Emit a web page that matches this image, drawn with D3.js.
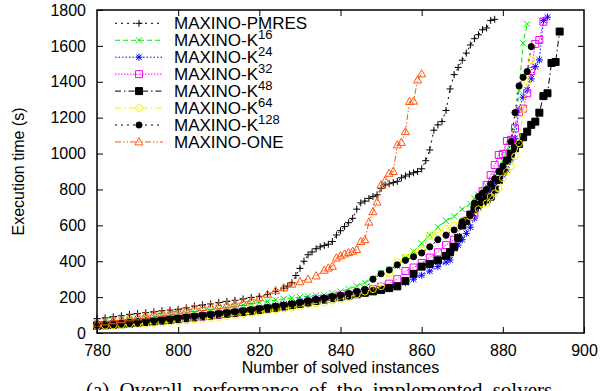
<!DOCTYPE html>
<html>
<head>
<meta charset="utf-8">
<script src="https://cdn.jsdelivr.net/npm/d3@7"></script>
<style>
  body { margin: 0; background: #fff; }
  svg { display: block; }
</style>
</head>
<body>
<div id="chart"></div>
<script>
// axis ticks
const xTicks = [780, 800, 820, 840, 860, 880, 900];
const yTicks = [0, 200, 400, 600, 800, 1000, 1200, 1400, 1600, 1800];

// legend labels: [base text, superscript]
const labels = [
  ['MAXINO-PMRES', ''],
  ['MAXINO-K', '16'],
  ['MAXINO-K', '24'],
  ['MAXINO-K', '32'],
  ['MAXINO-K', '48'],
  ['MAXINO-K', '64'],
  ['MAXINO-K', '128'],
  ['MAXINO-ONE', '']
];

// [solved instances, execution time (s)]
const pmres = [[780,80],[782,84],[784,90],[786,96],[788,104],[790,108],[792,113],[794,118],[796,124],[798,128],[800,132],[802,140],[804,150],[806,156],[808,162],[810,170],[812,176],[814,182],[816,190],[818,198],[820,204],[822,214],[824,232],[826,250],[827,262],[828,280],[829,320],[830,360],[831,400],[832,436],[833,452],[834,470],[835,480],[836,488],[837,495],[838,510],[839,546],[840,570],[841,593],[842,615],[843,639],[844,690],[845,725],[846,735],[847,750],[848,760],[849,770],[850,805],[851,825],[852,832],[853,838],[854,845],[855,865],[856,875],[857,885],[858,893],[859,900],[860,915],[861,960],[862,1020],[863,1130],[864,1160],[865,1178],[866,1240],[867,1360],[868,1440],[869,1480],[870,1520],[871,1560],[872,1605],[873,1640],[874,1662],[875,1690],[876,1700],[877,1742],[878,1748]];

const k16 = [[780,60],[782,64],[784,68],[786,72],[788,76],[790,80],[792,84],[794,90],[796,96],[798,100],[800,106],[802,111],[804,116],[806,122],[808,128],[810,135],[812,142],[814,148],[816,156],[818,164],[820,170],[822,176],[824,184],[826,190],[828,196],[830,200],[832,204],[834,208],[836,212],[838,222],[840,232],[842,245],[844,262],[846,280],[848,305],[850,335],[852,355],[854,372],[856,420],[858,455],[860,500],[862,546],[864,590],[866,625],[868,650],[870,690],[872,720],[873,751],[874,770],[875,795],[876,820],[877,850],[878,875],[879,900],[880,960],[881,1020],[882,1076],[883,1150],[884,1350],[885,1615],[886,1722]];

const k24 = [[780,48],[782,50],[784,53],[786,56],[788,60],[790,64],[792,68],[794,72],[796,76],[798,80],[800,84],[802,88],[804,92],[806,96],[808,100],[810,105],[812,110],[814,116],[816,122],[818,128],[820,136],[822,144],[824,152],[826,160],[828,168],[830,178],[832,188],[834,194],[836,198],[838,204],[840,210],[842,216],[844,222],[846,228],[848,236],[850,244],[852,252],[854,262],[856,280],[858,300],[860,322],[862,345],[864,370],[866,395],[867,407],[868,470],[869,490],[870,520],[871,555],[872,590],[873,640],[874,700],[875,740],[876,760],[877,790],[878,820],[879,850],[880,880],[881,910],[882,968],[883,1085],[884,1243],[885,1314],[886,1355],[887,1416],[888,1484],[889,1522],[890,1741],[891,1760]];

const k32 = [[780,42],[782,44],[784,47],[786,50],[788,53],[790,57],[792,61],[794,65],[796,69],[798,73],[800,77],[802,82],[804,87],[806,92],[808,97],[810,102],[812,107],[814,112],[816,117],[818,122],[820,128],[822,134],[824,140],[826,148],[828,156],[830,164],[832,172],[834,180],[836,190],[838,198],[840,206],[842,214],[844,222],[846,232],[848,244],[850,258],[852,275],[854,300],[856,345],[858,365],[860,390],[862,420],[864,450],[866,490],[868,520],[870,600],[872,650],[873,667],[874,723],[875,790],[876,825],[877,880],[878,936],[879,992],[880,998],[881,1070],[882,1076],[883,1141],[884,1230],[885,1250],[886,1336],[887,1460],[888,1611],[889,1633],[890,1735]];

const k48 = [[780,40],[782,43],[784,46],[786,49],[788,53],[790,57],[792,61],[794,65],[796,70],[798,74],[800,78],[802,83],[804,88],[806,93],[808,98],[810,103],[812,108],[814,113],[816,118],[818,124],[820,130],[822,136],[824,142],[826,148],[828,155],[830,162],[832,170],[834,178],[836,186],[838,194],[840,200],[842,208],[844,216],[846,224],[848,232],[850,240],[852,250],[854,260],[856,290],[858,330],[860,370],[862,385],[864,405],[866,430],[867,450],[868,480],[869,530],[870,600],[871,625],[872,660],[873,690],[874,715],[875,732],[876,745],[877,760],[878,800],[879,853],[880,900],[881,960],[882,1000],[883,1030],[884,1054],[885,1091],[886,1122],[887,1160],[888,1178],[889,1228],[890,1320],[891,1336],[892,1505],[893,1510],[894,1680]];

const k64 = [[780,38],[782,40],[784,42],[786,45],[788,48],[790,50],[792,52],[794,55],[796,58],[798,62],[800,66],[802,70],[804,74],[806,78],[808,82],[810,88],[812,94],[814,100],[816,106],[818,112],[820,118],[822,124],[824,130],[826,136],[828,142],[830,150],[832,158],[834,164],[836,170],[838,180],[840,190],[842,200],[844,215],[846,230],[848,244],[850,260],[852,330],[854,395],[856,420],[858,440],[860,463],[862,540],[864,560],[866,580],[868,600],[870,625],[872,648],[874,690],[876,723],[877,760],[878,779],[879,807],[880,862],[881,900],[882,927],[883,983],[884,1057],[885,1247],[886,1400],[887,1522]];

const k128 = [[780,45],[782,48],[784,51],[786,54],[788,58],[790,62],[792,66],[794,70],[796,74],[798,78],[800,82],[802,87],[804,92],[806,97],[808,102],[810,107],[812,112],[814,118],[816,124],[818,130],[820,136],[822,142],[824,148],[826,155],[828,162],[830,170],[832,178],[834,186],[836,194],[838,202],[840,210],[842,220],[844,232],[846,244],[848,300],[850,330],[852,351],[854,380],[856,405],[858,425],[860,446],[862,480],[864,520],[866,545],[868,574],[870,620],[872,658],[873,723],[874,760],[875,780],[876,800],[877,830],[878,860],[879,900],[880,930],[881,964],[882,1066],[883,1228],[884,1377],[885,1425],[886,1457],[887,1596]];

const one = [[780,55],[782,62],[784,68],[786,74],[788,84],[790,90],[792,96],[794,104],[796,110],[798,116],[800,122],[802,128],[804,136],[806,142],[808,147],[810,152],[812,156],[814,162],[816,170],[818,180],[820,196],[822,216],[824,236],[826,252],[828,272],[830,286],[832,300],[834,318],[836,350],[837,362],[838,372],[839,418],[840,430],[841,440],[842,448],[843,456],[844,465],[845,510],[846,520],[847,618],[848,676],[849,730],[850,825],[851,850],[852,890],[853,900],[854,1048],[855,1062],[856,1122],[857,1290],[858,1292],[859,1410],[860,1444]];

const seriesData = [pmres, k16, k24, k32, k48, k64, k128, one];

// styles (gnuplot-like)
const colors = ['#000000', '#00ee00', '#0000ff', '#ff00ff', '#000000', '#f2f200', '#000000', '#ff5511'];
const dashes = ['2,4', '5,3', '1.5,2', '1.5,1.5', '6,3,1.5,3', '6,3,1.5,3', '2,4', '6,2,1.5,2,1.5,2'];
const shapes = ['plus', 'cross', 'star', 'square', 'squareFilled', 'circle', 'circleFilled', 'triangle'];

const width = 601, height = 391;
const plot = { left: 97, right: 584, top: 10, bottom: 333 };
const font = '"Liberation Sans", Arial, Helvetica, sans-serif';

const svg = d3.select('#chart').append('svg')
  .attr('width', width)
  .attr('height', height)
  .style('font-family', font);

const x = d3.scaleLinear().domain([780, 900]).range([plot.left, plot.right]);
const y = d3.scaleLinear().domain([0, 1800]).range([plot.bottom, plot.top]);

// marker paths centred on 0,0
function markerPath(shape) {
  const r = 3.5;
  switch (shape) {
    case 'plus': return `M${-r},0H${r}M0,${-r}V${r}`;
    case 'cross': return `M${-r+0.5},${-r+0.5}L${r-0.5},${r-0.5}M${-r+0.5},${r-0.5}L${r-0.5},${-r+0.5}`;
    case 'star': return `M${-r},0H${r}M0,${-r}V${r}M-2.8,-2.8L2.8,2.8M-2.8,2.8L2.8,-2.8`;
    case 'square':
    case 'squareFilled': return `M-3.5,-3.5H3.5V3.5H-3.5Z`;
    case 'circle': return d3.symbol(d3.symbolCircle, 36)();
    case 'circleFilled': return d3.symbol(d3.symbolCircle, 30)();
    case 'triangle': return `M0,-4.2L4,3H-4Z`;
  }
}

function drawMarker(sel, shape, color) {
  const filled = shape === 'squareFilled' || shape === 'circleFilled';
  sel.attr('d', markerPath(shape))
    .attr('fill', filled ? color : 'none')
    .attr('stroke', color)
    .attr('stroke-width', 1);
}

// axes: ticks point inward, mirrored on top/right
const xAxis = svg.append('g')
  .attr('transform', `translate(0,${plot.bottom})`)
  .call(d3.axisBottom(x).tickValues(xTicks).tickSize(-6).tickPadding(12).tickFormat(d3.format('d')));
const xTop = svg.append('g')
  .attr('transform', `translate(0,${plot.top})`)
  .call(d3.axisTop(x).tickValues(xTicks.slice(1, -1)).tickSize(-6).tickFormat(''));
const yAxis = svg.append('g')
  .attr('transform', `translate(${plot.left},0)`)
  .call(d3.axisLeft(y).tickValues(yTicks).tickSize(-6).tickPadding(11).tickFormat(d3.format('d')));
const yRight = svg.append('g')
  .attr('transform', `translate(${plot.right},0)`)
  .call(d3.axisRight(y).tickValues(yTicks.slice(1, -1)).tickSize(-6).tickFormat(''));

[xAxis, xTop, yAxis, yRight].forEach(g => {
  g.select('.domain').remove();
  g.selectAll('line').attr('stroke', '#000').attr('stroke-width', 1);
  g.selectAll('text').attr('fill', '#000').style('font-size', '16px').style('font-family', font);
});

// series
svg.append('clipPath').attr('id', 'clip')
  .append('rect')
  .attr('x', plot.left).attr('y', plot.top)
  .attr('width', plot.right - plot.left).attr('height', plot.bottom - plot.top);

const line = d3.line().x(d => x(d[0])).y(d => y(d[1]));

seriesData.forEach((data, i) => {
  const g = svg.append('g');
  g.append('path')
    .datum(data)
    .attr('fill', 'none')
    .attr('stroke', colors[i])
    .attr('stroke-width', 1)
    .attr('stroke-dasharray', dashes[i])
    .attr('d', line)
    .attr('clip-path', 'url(#clip)');
  g.selectAll('path.pt')
    .data(data)
    .join('path')
    .attr('class', 'pt')
    .attr('transform', d => `translate(${x(d[0])},${y(d[1])})`)
    .call(drawMarker, shapes[i], colors[i]);
});

// border
svg.append('rect')
  .attr('x', plot.left).attr('y', plot.top)
  .attr('width', plot.right - plot.left).attr('height', plot.bottom - plot.top)
  .attr('fill', 'none')
  .attr('stroke', '#000')
  .attr('stroke-width', 1.5);

// legend
const legend = svg.append('g');
labels.forEach((lab, i) => {
  const cy = 23.3 + i * 16.95;
  const row = legend.append('g');
  row.append('line')
    .attr('x1', 115).attr('x2', 163).attr('y1', cy).attr('y2', cy)
    .attr('stroke', colors[i]).attr('stroke-width', 1)
    .attr('stroke-dasharray', dashes[i]);
  row.append('path')
    .attr('transform', `translate(139,${cy})`)
    .call(drawMarker, shapes[i], colors[i]);
  const t = row.append('text')
    .attr('x', 174).attr('y', cy + 6)
    .style('font-size', '17px');
  t.append('tspan').text(lab[0]);
  if (lab[1]) {
    t.append('tspan').attr('dy', -7).style('font-size', '13px').text(lab[1]);
  }
});

// axis titles
svg.append('text')
  .attr('x', (plot.left + plot.right) / 2)
  .attr('y', 373)
  .attr('text-anchor', 'middle')
  .style('font-size', '16px')
  .text('Number of solved instances');

svg.append('text')
  .attr('transform', `translate(24,${(plot.top + plot.bottom) / 2}) rotate(-90)`)
  .attr('text-anchor', 'middle')
  .style('font-size', '16px')
  .text('Execution time (s)');

// figure caption, cut by the bottom edge
svg.append('text')
  .attr('x', 86)
  .attr('y', 397)
  .style('font-family', '"Liberation Serif", "Times New Roman", serif')
  .style('font-size', '21px')
  .style('word-spacing', '5px')
  .text('(a) Overall performance of the implemented solvers');
</script>
</body>
</html>
